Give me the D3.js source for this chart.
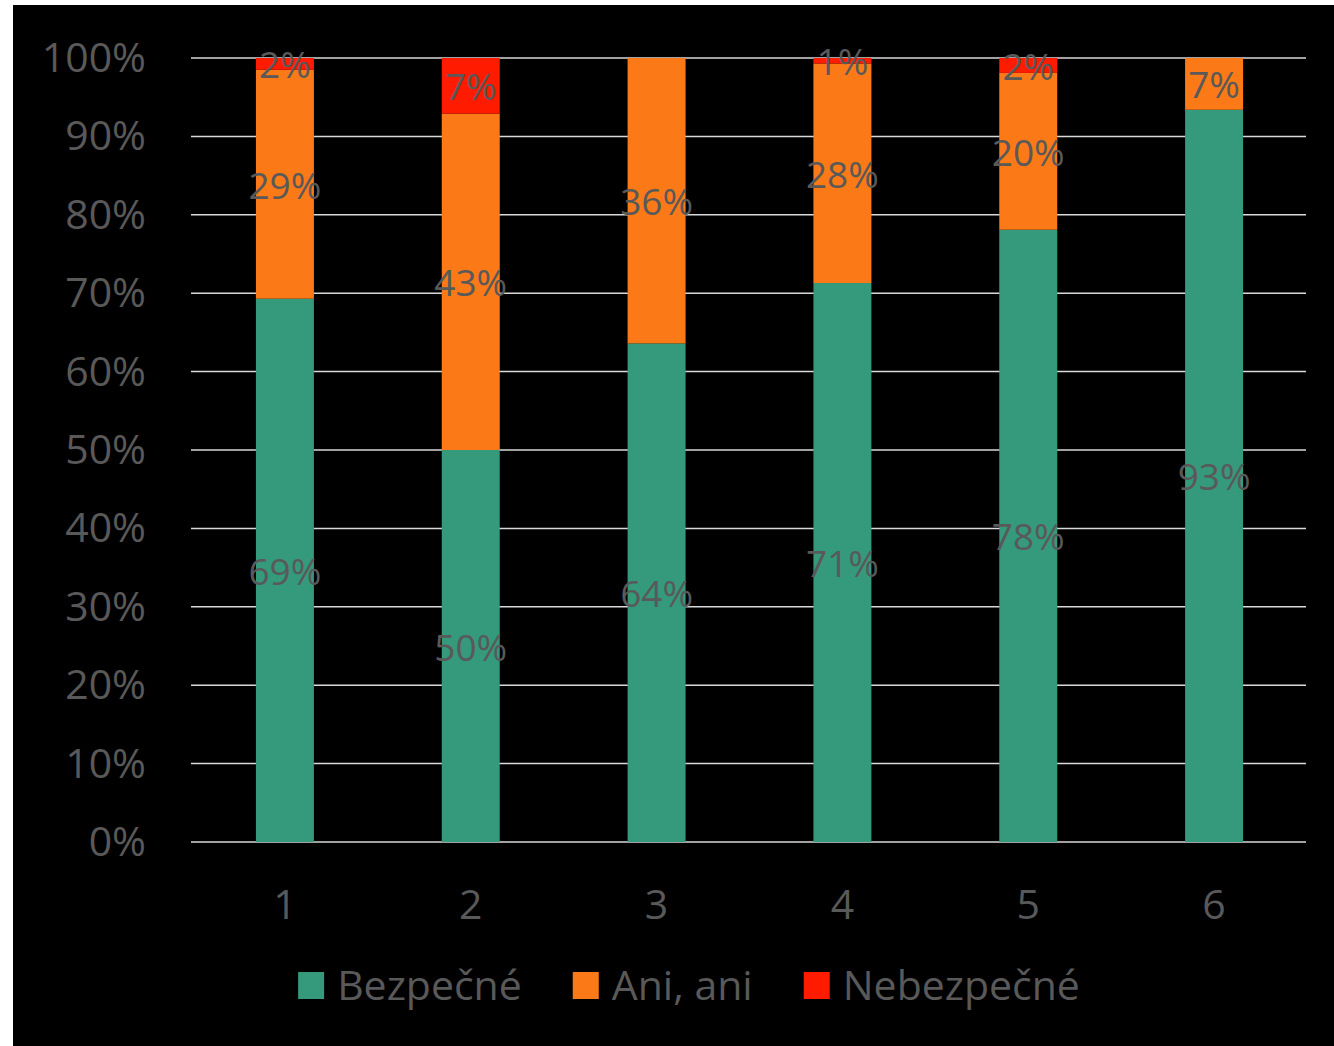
<!DOCTYPE html>
<html><head><meta charset="utf-8">
<script src="https://cdn.jsdelivr.net/npm/d3@7"></script>
<style>
html,body{margin:0;padding:0;background:#fff;}
svg{display:block;}
text{font-family:"Open Sans",sans-serif;fill:#595959;}
</style></head>
<body>
<svg id="chart" width="1334" height="1046"></svg>
<script>
const categories = ["1","2","3","4","5","6"];
const seriesNames = ["Bezpečné","Ani, ani","Nebezpečné"];
const bezpecne   = [69.3, 50.0, 63.6, 71.3, 78.1, 93.4];
const aniAni     = [29.2, 42.9, 36.4, 28.0, 20.0, 6.6];
const nebezpecne = [1.5, 7.1, 0, 0.7, 1.9, 0];
const yTicks = [0,10,20,30,40,50,60,70,80,90,100];
const colors = ["#35997b","#fb7a17","#ff1b00"];

const svg = d3.select("#chart");
svg.append("rect").attr("x",13).attr("y",5).attr("width",1321).attr("height",1041).attr("fill","#000");

const x = d3.scaleBand().domain(categories).range([192,1307]).paddingInner(0.688).paddingOuter(0.344);
const y = d3.scaleLinear().domain([0,100]).range([842,58]);

// gridlines
svg.append("g").selectAll("line").data(yTicks).join("line")
  .attr("x1",191).attr("x2",1306)
  .attr("y1",d=>y(d)).attr("y2",d=>y(d))
  .attr("stroke","#d9d9d9").attr("stroke-width",1.5);

// y tick labels
svg.append("g").selectAll("text").data(yTicks).join("text")
  .attr("x",146).attr("y",d=>y(d)-2).attr("text-anchor","end")
  .attr("dominant-baseline","central").style("font-size","41px")
  .text(d=>d+"%");

const rows = categories.map((c,i)=>({cat:c, s0:bezpecne[i], s1:aniAni[i], s2:nebezpecne[i]}));
const stack = d3.stack().keys(["s0","s1","s2"])(rows);

const g = svg.append("g");
stack.forEach((layer,k)=>{
  g.selectAll(null).data(layer).join("rect")
    .attr("x",d=>x(d.data.cat)).attr("width",x.bandwidth())
    .attr("y",d=>y(d[1])).attr("height",d=>y(d[0])-y(d[1]))
    .attr("fill",colors[k]);
});
stack.forEach((layer,k)=>{
  g.selectAll(null).data(layer.filter(d=>d[1]-d[0]>0)).join("text")
    .attr("x",d=>x(d.data.cat)+x.bandwidth()/2)
    .attr("y",d=>(y(d[0])+y(d[1]))/2)
    .attr("text-anchor","middle").attr("dominant-baseline","central")
    .style("font-size","37px")
    .text(d=>Math.round(d[1]-d[0])+"%");
});

// category labels
svg.append("g").selectAll("text").data(categories).join("text")
  .attr("x",d=>x(d)+x.bandwidth()/2).attr("y",903)
  .attr("text-anchor","middle").attr("dominant-baseline","central")
  .style("font-size","41px").text(d=>d);

// legend
const leg = svg.append("g");
const items = seriesNames.map((n,i)=>{
  const it = leg.append("g");
  it.append("rect").attr("width",26).attr("height",27).attr("y",972).attr("fill",colors[i]);
  const t = it.append("text").attr("x",39).attr("y",984).attr("dominant-baseline","central")
    .style("font-size","41px").text(n);
  return {g:it, w:39+t.node().getComputedTextLength()};
});
const gap = 51;
const total = d3.sum(items,d=>d.w)+gap*(items.length-1);
let cx = 689 - total/2;
items.forEach(it=>{ it.g.attr("transform",`translate(${cx},0)`); cx += it.w+gap; });
</script>
</body></html>
